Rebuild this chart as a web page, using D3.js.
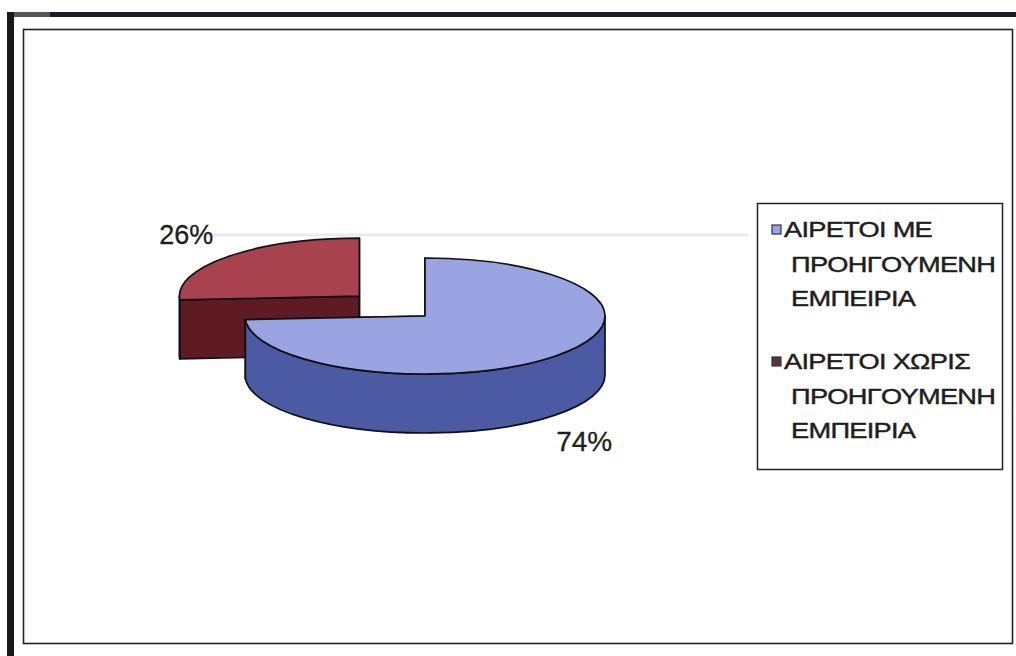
<!DOCTYPE html>
<html>
<head>
<meta charset="utf-8">
<script src="https://cdn.jsdelivr.net/npm/d3@7"></script>
<style>
  html, body { margin: 0; padding: 0; background: #fff; }
  svg { display: block; }
  text { font-family: "Liberation Sans", Arial, sans-serif; fill: #1e1e22; }
</style>
</head>
<body>
<svg id="chart" width="1016" height="656"></svg>
<script>
// Series data
const categories = [
  ["ΑΙΡΕΤΟΙ ΜΕ", "ΠΡΟΗΓΟΥΜΕΝΗ", "ΕΜΠΕΙΡΙΑ"],
  ["ΑΙΡΕΤΟΙ ΧΩΡΙΣ", "ΠΡΟΗΓΟΥΜΕΝΗ", "ΕΜΠΕΙΡΙΑ"]
];
const values = [74, 26];
const valueLabels = ["74%", "26%"];
const explode = [0, 0.5];

const topColors = ["#9aa4e2", "#a9424f"];
const sideColors = ["#4b5aa3", "#5e1b24"];
const swatchColors = ["#9aa4e2", "#5a3545"];

const svg = d3.select("#chart");

// Frame: heavy outer edge on top/left, thin inner plot-area box
svg.append("rect").attr("x", 7).attr("y", 12).attr("width", 7).attr("height", 644).attr("fill", "#18181e");
svg.append("rect").attr("x", 14).attr("y", 12).attr("width", 1002).attr("height", 5).attr("fill", "#1c1c22");
svg.append("rect").attr("x", 14).attr("y", 12).attr("width", 36).attr("height", 5).attr("fill", "#55555a");
svg.append("rect")
  .attr("x", 23.5).attr("y", 29.5).attr("width", 989).attr("height", 614)
  .attr("fill", "#fff").attr("stroke", "#222").attr("stroke-width", 1.6);

// faint scan streak across the upper chart area
svg.append("line")
  .attr("x1", 195).attr("x2", 748).attr("y1", 235).attr("y2", 235)
  .attr("stroke", "#e8ebf3").attr("stroke-width", 3);

// 3D pie geometry (ellipse projection)
const cx = 425, cy = 316, rx = 180, ry = 58, depth = 59;

const pie = d3.pie().sort(null).startAngle(0).endAngle(2 * Math.PI);
const arcs = pie(values);

const slices = arcs.map((a, i) => {
  const mid = (a.startAngle + a.endAngle) / 2;
  const ox = cx + explode[i] * rx * Math.sin(mid);
  const oy = cy - explode[i] * ry * Math.cos(mid);
  return { i, a0: a.startAngle, a1: a.endAngle, mid, ox, oy };
});

function pt(s, ang, dz = 0) {
  return [s.ox + rx * Math.sin(ang), s.oy - ry * Math.cos(ang) + dz];
}

function topPath(s) {
  const p0 = pt(s, s.a0), p1 = pt(s, s.a1);
  const large = (s.a1 - s.a0) > Math.PI ? 1 : 0;
  return `M${s.ox},${s.oy}L${p0}A${rx},${ry} 0 ${large} 1 ${p1}Z`;
}

function wallPath(s, ang) {
  const p = pt(s, ang), pd = pt(s, ang, depth);
  return `M${s.ox},${s.oy}L${p}L${pd}L${s.ox},${s.oy + depth}Z`;
}

function rimPath(s) {
  const st = Math.max(s.a0, Math.PI / 2), en = Math.min(s.a1, 3 * Math.PI / 2);
  if (en <= st) return null;
  const p0 = pt(s, st), p1 = pt(s, en), p1d = pt(s, en, depth), p0d = pt(s, st, depth);
  const large = (en - st) > Math.PI ? 1 : 0;
  return `M${p0}A${rx},${ry} 0 ${large} 1 ${p1}L${p1d}A${rx},${ry} 0 ${large} 0 ${p0d}Z`;
}

const pieG = svg.append("g").attr("stroke", "#111").attr("stroke-width", 1.7).attr("stroke-linejoin", "round");

// paint back-to-front
slices.slice().sort((a, b) => a.oy - b.oy).forEach(s => {
  const g = pieG.append("g");
  [s.a0, s.a1].forEach(ang => {
    g.append("path").attr("d", wallPath(s, ang)).attr("fill", sideColors[s.i]);
  });
  const rp = rimPath(s);
  if (rp) g.append("path").attr("d", rp).attr("fill", sideColors[s.i]);
  g.append("path").attr("d", topPath(s)).attr("fill", topColors[s.i]);
});

// percentage labels placed off the slice rim at mid-angle
slices.forEach(s => {
  const front = Math.cos(s.mid) < 0;
  const p = pt(s, s.mid, front ? depth : 0);
  const right = Math.sin(s.mid) > 0;
  svg.append("text")
    .attr("x", p[0] + (right ? 0 : -15))
    .attr("y", p[1] + (front ? 36 : -12))
    .attr("text-anchor", right ? "start" : "end")
    .attr("font-size", right ? 28 : 27)
    .attr("stroke", "#1e1e22").attr("stroke-width", 0.3)
    .text(valueLabels[s.i]);
});

// Legend
const lg = svg.append("g");
lg.append("rect")
  .attr("x", 757.5).attr("y", 203.5).attr("width", 245).attr("height", 266)
  .attr("fill", "#fff").attr("stroke", "#222").attr("stroke-width", 1.5);

const lineGap = 34.5, groupTop = [237, 369];
categories.forEach((lines, i) => {
  lg.append("rect")
    .attr("x", 772).attr("y", groupTop[i] - 12).attr("width", 9).attr("height", 9)
    .attr("fill", swatchColors[i]).attr("stroke", "#333").attr("stroke-width", 1.2);
  lines.forEach((t, j) => {
    lg.append("text")
      .attr("transform", `translate(${j === 0 ? 784 : 791},${groupTop[i] + j * lineGap}) scale(1.21,1)`)
      .attr("font-size", 22.5)
      .attr("letter-spacing", -0.6)
      .attr("stroke", "#1e1e22").attr("stroke-width", 0.45)
      .text(t);
  });
});
</script>
</body>
</html>
